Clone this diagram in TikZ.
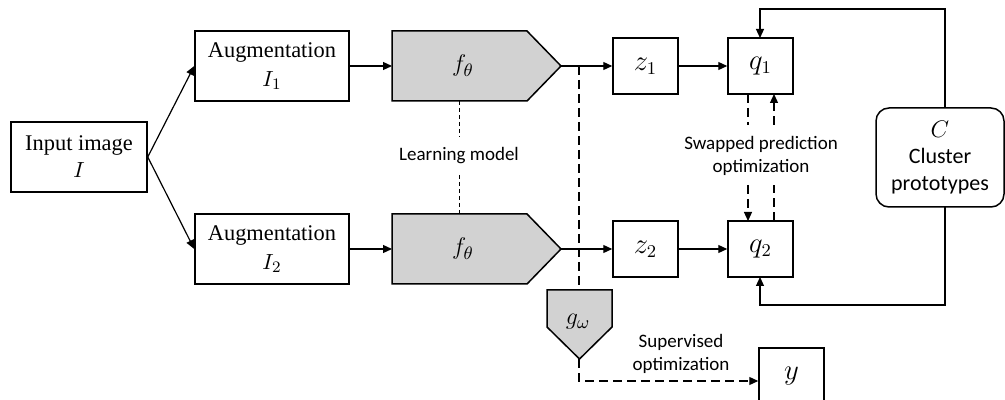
\documentclass[tikz,border=0pt]{standalone}
\usepackage{fontspec}
\setmainfont{Liberation Serif}
\newfontfamily\labelfont{Carlito}
\usetikzlibrary{arrows.meta}

\begin{document}
\begin{tikzpicture}[x=0.5pt,y=-0.5pt,
  box/.style={draw, line width=0.75pt, inner sep=0pt, align=center,
    font=\fontsize{11.2}{14.5}\selectfont},
  small/.style={box, minimum width=32.5pt, minimum height=28pt,
    font=\fontsize{13.5}{15}\selectfont},
  shaded/.style={draw, line width=0.75pt, fill=gray!35},
  symb/.style={font=\fontsize{13}{15}\selectfont},
  conn/.style={line width=0.6pt, -{Triangle[length=4.5pt,width=4pt]}},
  longdash/.style={line width=0.6pt, dash pattern=on 4.5pt off 2.5pt},
  shortdash/.style={line width=0.45pt, dash pattern=on 2pt off 1.5pt},
  note/.style={font=\labelfont\fontsize{9.5}{11.2}\selectfont, align=center, inner sep=0pt}]

\useasboundingbox (0,0) rectangle (1005,400);

% input and augmentations
\node[box, minimum width=68pt, minimum height=35pt] (in) at (79,157)
  {Input image\\[-1pt] $I$};
\node[box, minimum width=77pt, minimum height=35pt] (aug1) at (272,66)
  {Augmentation\\ $I_1$};
\node[box, minimum width=77pt, minimum height=35pt] (aug2) at (272,249)
  {Augmentation\\ $I_2$};

% encoder blocks f_theta
\draw[shaded] (392,31) -- (527,31) -- (561,66) -- (527,101) -- (392,101) -- cycle;
\draw[shaded] (392,214) -- (527,214) -- (561,249) -- (527,284) -- (392,284) -- cycle;
\node[symb] (f1) at (463,66) {$f_\theta$};
\node[symb] (f2) at (463,249) {$f_\theta$};
\coordinate (f1in) at (392,66);
\coordinate (f2in) at (392,249);
\coordinate (f1tip) at (561,66);
\coordinate (f2tip) at (561,249);
\coordinate (f1bot) at (459,101);
\coordinate (f2top) at (459,214);

% head g_omega
\draw[shaded] (547,290) -- (612,290) -- (612,327) -- (579.5,359) -- (547,327) -- cycle;
\node[symb] (g) at (578,322) {$g_\omega$};
\coordinate (gtop) at (579,290);
\coordinate (gtip) at (579,359);

% embeddings and codes
\node[small] (z1) at (645.5,66) {$z_1$};
\node[small] (z2) at (645.5,249) {$z_2$};
\node[small] (q1) at (760.5,66) {$q_1$};
\node[small] (q2) at (760.5,249) {$q_2$};

% cluster prototypes
\node[draw, line width=0.75pt, rounded corners=6.5pt, minimum width=64pt,
  minimum height=49.5pt, inner sep=0pt, align=center,
  font=\labelfont\fontsize{11}{13.3}\selectfont] (C) at (940,157.5)
  {{\fontsize{12.5}{13.3}\selectfont$C$}\\ Cluster\\ prototypes};

% label y
\node[small] (y) at (791.5,376) {$y$};

% main flow
\draw[conn] (in.east) -- (aug1.west);
\draw[conn] (in.east) -- (aug2.west);
\draw[conn] (aug1.east) -- (f1in);
\draw[conn] (aug2.east) -- (f2in);
\draw[conn] (f1tip) -- (z1.west);
\draw[conn] (f2tip) -- (z2.west);
\draw[conn] (z1.east) -- (q1.west);
\draw[conn] (z2.east) -- (q2.west);

% prototypes feed both codes
\coordinate (ctop) at (945,108);
\coordinate (cbot) at (945,207);
\draw[conn] (ctop) -- (945,9) -- (760,9) -- (760,38);
\draw[conn] (cbot) -- (945,305) -- (760,305) -- (760,277);

% shared weights
\node[note] (lm) at (459,156) {Learning model};
\draw[shortdash] (f1bot) -- (459,137);
\draw[shortdash] (459,175) -- (f2top);

% swapped prediction
\node[note] (sw) at (761,156) {Swapped prediction\\ optimization};
\draw[longdash] (748,94) -- (748,125);
\draw[longdash, conn] (748,185) -- (748,221);
\draw[longdash, conn] (774,125) -- (774,94);
\draw[longdash] (774,221) -- (774,185);

% supervised branch
\coordinate (split) at (579,66);
\draw[longdash] (split) -- (gtop);
\draw[longdash, conn] (gtip) -- (579,381) -- (y.west |- 0,381);
\node[note] (sup) at (681,354) {Supervised\\ optimization};

\end{tikzpicture}
\end{document}
